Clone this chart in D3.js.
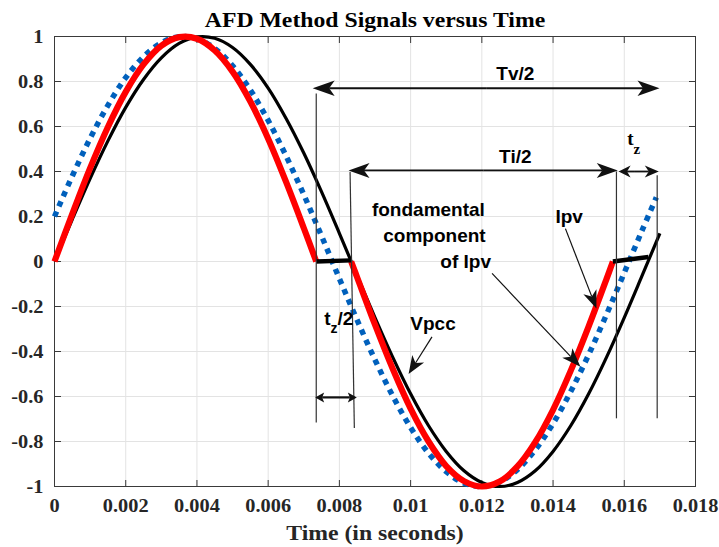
<!DOCTYPE html>
<html><head><meta charset="utf-8">
<script src="https://cdn.jsdelivr.net/npm/d3@7"></script>
<style>html,body{margin:0;padding:0;background:#fff;} svg{display:block;}</style>
</head><body><svg id="chart" width="719" height="547"></svg>
<script>
// ---------- data ----------
const xTicks = [0, 0.002, 0.004, 0.006, 0.008, 0.01, 0.012, 0.014, 0.016, 0.018];
const xTickLabels = ["0", "0.002", "0.004", "0.006", "0.008", "0.01", "0.012", "0.014", "0.016", "0.018"];
const yTicks = [-1, -0.8, -0.6, -0.4, -0.2, 0, 0.2, 0.4, 0.6, 0.8, 1];
const yTickLabels = ["-1", "-0.8", "-0.6", "-0.4", "-0.2", "0", "0.2", "0.4", "0.6", "0.8", "1"];

// Vpcc (black)
const vpccTime = [0, 0.0005, 0.001, 0.0015, 0.002, 0.0025, 0.003, 0.0035, 0.004, 0.0045, 0.005, 0.0055, 0.006, 0.0065, 0.007, 0.0075, 0.008, 0.0085, 0.009, 0.0095, 0.01, 0.0105, 0.011, 0.0115, 0.012, 0.0125, 0.013, 0.0135, 0.014, 0.0145, 0.015, 0.0155, 0.016, 0.0165, 0.017];
const vpcc = [0, 0.187, 0.368, 0.536, 0.685, 0.809, 0.905, 0.969, 0.998, 0.992, 0.951, 0.876, 0.771, 0.637, 0.482, 0.309, 0.125, -0.063, -0.249, -0.426, -0.588, -0.729, -0.844, -0.930, -0.982, -1.000, -0.982, -0.930, -0.844, -0.729, -0.588, -0.426, -0.249, -0.063, 0.125];

// fundamental component of Ipv (blue dotted)
const fundTime = [0, 0.0005, 0.001, 0.0015, 0.002, 0.0025, 0.003, 0.0035, 0.004, 0.0045, 0.005, 0.0055, 0.006, 0.0065, 0.007, 0.0075, 0.008, 0.0085, 0.009, 0.0095, 0.01, 0.0105, 0.011, 0.0115, 0.012, 0.0125, 0.013, 0.0135, 0.014, 0.0145, 0.015, 0.0155, 0.016, 0.0165, 0.0169];
const fundIpv = [0.200, 0.380, 0.547, 0.694, 0.817, 0.910, 0.972, 0.999, 0.990, 0.947, 0.870, 0.762, 0.627, 0.470, 0.297, 0.113, -0.076, -0.261, -0.437, -0.598, -0.738, -0.851, -0.934, -0.985, -1.000, -0.980, -0.925, -0.837, -0.720, -0.577, -0.414, -0.236, -0.050, 0.138, 0.285];

// Ipv (red) first and second half-cycles
const ipvTime1 = [0, 0.0005, 0.001, 0.0015, 0.002, 0.0025, 0.003, 0.0035, 0.004, 0.0045, 0.005, 0.0055, 0.006, 0.0065, 0.007, 0.00735];
const ipv1 = [0, 0.212, 0.415, 0.598, 0.754, 0.876, 0.959, 0.997, 0.990, 0.938, 0.844, 0.711, 0.546, 0.355, 0.149, 0];
const ipvTime2 = [0.00833, 0.0085, 0.009, 0.0095, 0.01, 0.0105, 0.011, 0.0115, 0.012, 0.0125, 0.013, 0.0135, 0.014, 0.0145, 0.015, 0.0155, 0.01568];
const ipv2 = [0, -0.071, -0.281, -0.478, -0.654, -0.799, -0.909, -0.976, -1.000, -0.978, -0.911, -0.803, -0.659, -0.484, -0.288, -0.078, 0];

// Ipv zero (dead-time) intervals (thick black)
const zeroTime1 = [0.00735, 0.00833];
const zero1 = [0, 0.005];
const zeroTime2 = [0.01568, 0.01668];
const zero2 = [0, 0.02];

// ---------- layout ----------
const svg = d3.select("#chart");
const x = d3.scaleLinear().domain([0, 0.018]).range([54.5, 695.5]);
const y = d3.scaleLinear().domain([-1, 1]).range([486.5, 36.5]);
const SERIF = "'Liberation Serif','Times New Roman',serif";
const SANS = "'Liberation Sans',Arial,sans-serif";

function text(g, px, py, str, size, family, anchor, fill, sx) {
  return g.append("text")
    .attr("transform", `translate(${px},${py}) scale(${sx || 1},1)`)
    .attr("font-family", family).attr("font-size", size).attr("font-weight", "bold")
    .attr("text-anchor", anchor || "start").attr("fill", fill || "#000")
    .text(str);
}

// grid
const grid = svg.append("g").attr("stroke", "#e3e3e3").attr("stroke-width", 1);
xTicks.slice(1, -1).forEach(t => grid.append("line").attr("x1", x(t)).attr("x2", x(t)).attr("y1", y(-1)).attr("y2", y(1)));
yTicks.slice(1, -1).forEach(v => grid.append("line").attr("x1", x(0)).attr("x2", x(0.018)).attr("y1", y(v)).attr("y2", y(v)));

// axes box and inward ticks
const ax = svg.append("g").attr("stroke", "#3a3a3a").attr("stroke-width", 1).attr("fill", "none");
ax.append("rect").attr("x", x(0)).attr("y", y(1)).attr("width", x(0.018) - x(0)).attr("height", y(-1) - y(1));
const TL = 6.5;
xTicks.forEach(t => {
  ax.append("line").attr("x1", x(t)).attr("x2", x(t)).attr("y1", y(-1)).attr("y2", y(-1) - TL);
  ax.append("line").attr("x1", x(t)).attr("x2", x(t)).attr("y1", y(1)).attr("y2", y(1) + TL);
});
yTicks.forEach(v => {
  ax.append("line").attr("x1", x(0)).attr("x2", x(0) + TL).attr("y1", y(v)).attr("y2", y(v));
  ax.append("line").attr("x1", x(0.018)).attr("x2", x(0.018) - TL).attr("y1", y(v)).attr("y2", y(v));
});

// tick labels
const tl = svg.append("g");
xTicks.forEach((t, i) => text(tl, x(t), 512, xTickLabels[i], 18, SERIF, "middle", "#262626", 1.13));
yTicks.forEach((v, i) => text(tl, x(0) - 11, y(v) + 6, yTickLabels[i], 18, SERIF, "end", "#262626", 1.13));

// title and axis label
text(svg, (x(0) + x(0.018)) / 2, 27, "AFD Method Signals versus Time", 21, SERIF, "middle", "#000", 1.13);
text(svg, (x(0) + x(0.018)) / 2, 540, "Time (in seconds)", 21, SERIF, "middle", "#262626", 1.13);

// ---------- series ----------
const line = d3.line().x(d => x(d[0])).y(d => y(d[1])).curve(d3.curveCatmullRom.alpha(0.5));
const straight = d3.line().x(d => x(d[0])).y(d => y(d[1]));
const zip = (a, b) => a.map((t, i) => [t, b[i]]);

const data = svg.append("g").attr("fill", "none").attr("stroke-linejoin", "round");
data.append("path").attr("d", line(zip(fundTime, fundIpv)))
  .attr("stroke", "#0060bc").attr("stroke-width", 5.5).attr("stroke-dasharray", "5.5,5.5");
data.append("path").attr("d", line(zip(vpccTime, vpcc)))
  .attr("stroke", "#000").attr("stroke-width", 3.2);
data.append("path").attr("d", line(zip(ipvTime1, ipv1)))
  .attr("stroke", "#ff0000").attr("stroke-width", 6.2);
data.append("path").attr("d", line(zip(ipvTime2, ipv2)))
  .attr("stroke", "#ff0000").attr("stroke-width", 6.2);
data.append("path").attr("d", straight(zip(zeroTime1, zero1)))
  .attr("stroke", "#000").attr("stroke-width", 4.5);
data.append("path").attr("d", straight(zip(zeroTime2, zero2)))
  .attr("stroke", "#000").attr("stroke-width", 4.5);

// ---------- annotations ----------
const an = svg.append("g");
function head(px, py, ang, L, W, I) {
  const dx = Math.cos(ang), dy = Math.sin(ang), nx = -dy, ny = dx;
  const bx = px - L * dx, by = py - L * dy;
  const p = [[px, py], [bx + W * nx, by + W * ny], [px - (L - I) * dx, py - (L - I) * dy], [bx - W * nx, by - W * ny]];
  return "M" + p.map(q => q[0].toFixed(2) + "," + q[1].toFixed(2)).join("L") + "Z";
}
function seg(t1, v1, t2, v2, w, col) {
  an.append("line").attr("x1", x(t1)).attr("y1", y(v1)).attr("x2", x(t2)).attr("y2", y(v2))
    .attr("stroke", col || "#111").attr("stroke-width", w);
}
function arrow(t1, v1, t2, v2, w, L, W, I) { // arrow pointing to (t2,v2)
  const x1 = x(t1), y1 = y(v1), x2 = x(t2), y2 = y(v2);
  const a = Math.atan2(y2 - y1, x2 - x1);
  an.append("line").attr("x1", x1).attr("y1", y1).attr("x2", x2 - (L - I) * Math.cos(a)).attr("y2", y2 - (L - I) * Math.sin(a))
    .attr("stroke", "#111").attr("stroke-width", w);
  an.append("path").attr("d", head(x2, y2, a, L, W, I)).attr("fill", "#111");
}
function darrow(t1, v1, t2, v2, w, L, W, I) {
  const xm = (x(t1) + x(t2)) / 2, ym = (y(v1) + y(v2)) / 2;
  const tm = x.invert(xm), vm = y.invert(ym);
  arrow(tm, vm, t1, v1, w, L, W, I);
  arrow(tm, vm, t2, v2, w, L, W, I);
}

// vertical reference lines
seg(0.00735, 0.747, 0.00735, -0.716, 1.2, "#333");
seg(0.00830, 0.398, 0.00842, -0.74, 1.2, "#333");
seg(0.01578, 0.40, 0.01578, -0.697, 1.2, "#333");
seg(0.016924, 0.383, 0.016924, -0.697, 1.2, "#333");

// Tv/2, Ti/2, tz, tz/2
darrow(0.00725, 0.770, 0.01699, 0.770, 1.8, 22, 7.8, 5.5);
darrow(0.008257, 0.405, 0.015817, 0.405, 1.8, 21, 7.5, 5.5);
arrow(0.0163, 0.40, 0.01584, 0.40, 1.8, 12, 6, 3.5);
arrow(0.0163, 0.40, 0.016969, 0.40, 1.8, 14, 6, 4);
darrow(0.00732, -0.604, 0.00849, -0.604, 2.2, 9, 5, 2);

// pointer arrows
arrow(0.0106, -0.335, 0.009943, -0.500, 1.2, 18, 7, 5);
arrow(0.014347, 0.146, 0.015218, -0.209, 1.2, 18, 7, 5);
arrow(0.012287, -0.053, 0.014768, -0.468, 1.2, 19, 7, 5);

// annotation texts
text(an, x(0.01294), y(0.805), "Tv/2", 19, SANS, "middle");
text(an, x(0.01294), y(0.438), "Ti/2", 19, SANS, "middle");
text(an, x(0.008914), y(0.2024), "fondamental", 19, SANS);
text(an, x(0.009232), y(0.087), "component", 19, SANS);
text(an, x(0.010834), y(-0.030), "of Ipv", 19, SANS);
text(an, x(0.009991), y(-0.305), "Vpcc", 19, SANS);
text(an, x(0.014066), y(0.170), "Ipv", 19, SANS);

const tz2 = text(an, x(0.007574), y(-0.283), "t", 19, SANS);
tz2.append("tspan").attr("font-size", 14).attr("dy", 8).text("z");
tz2.append("tspan").attr("dy", -8).text("/2");

const tz = text(an, x(0.01608), y(0.516), "t", 19, SERIF);
tz.append("tspan").attr("font-size", 15).attr("dy", 9).text("z");
</script>
</body></html>
